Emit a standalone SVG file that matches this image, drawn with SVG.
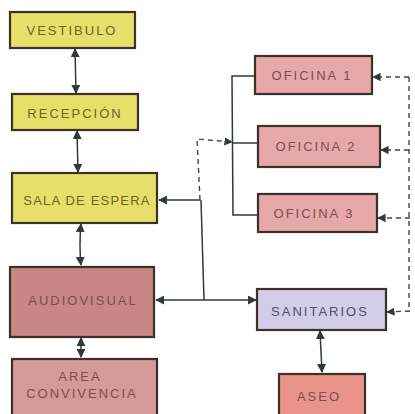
<svg xmlns="http://www.w3.org/2000/svg" width="415" height="414" viewBox="0 0 415 414">
<style>
.box{stroke:#3b3128;stroke-width:2.2}
.yel{fill:#e6df6a}
.av{fill:#c98686}
.ac{fill:#d39a97}
.of{fill:#e7a8aa}
.san{fill:#d2cde8}
.aseo{fill:#e9948a}
text{font-family:"Liberation Sans",Arial,sans-serif;font-size:13px;text-anchor:middle;letter-spacing:2px}
.ty{fill:#6b6524}
.tr{fill:#7e4d4f}
.tp{fill:#574d6a}
.c{fill:none;stroke:#2f3a3a;stroke-width:1.5}
.d{fill:none;stroke:#3f4545;stroke-width:1.4;stroke-dasharray:5 4}
</style>
<defs>
<marker id="ah" viewBox="0 0 10 10" refX="9" refY="5" markerWidth="6" markerHeight="6" orient="auto-start-reverse">
<path d="M0,0 L10,5 L0,10 z" fill="#2f3a3a"/>
</marker>
</defs>
<g id="connectors">
<line class="c" x1="75" y1="49" x2="76" y2="93" marker-start="url(#ah)" marker-end="url(#ah)"/>
<line class="c" x1="77" y1="131" x2="78" y2="172" marker-start="url(#ah)" marker-end="url(#ah)"/>
<path class="c" d="M81,224 Q79,245 81,265" marker-start="url(#ah)" marker-end="url(#ah)"/>
<line class="c" x1="81" y1="338" x2="81" y2="357" marker-start="url(#ah)" marker-end="url(#ah)"/>
<polyline class="c" points="200,200 159,200" marker-end="url(#ah)"/>
<polyline class="d" points="200,200 197,139 232,142" marker-end="url(#ah)"/>
<line class="c" x1="201" y1="200" x2="204" y2="300"/>
<line class="c" x1="204" y1="300" x2="156" y2="300" marker-end="url(#ah)"/>
<line class="c" x1="204" y1="300" x2="256" y2="300" marker-end="url(#ah)"/>
<polyline class="c" points="255,76 232,76 233,215 258,215"/>
<line class="c" x1="233" y1="143" x2="258" y2="143"/>
<polyline class="d" points="409,77 409,310"/>
<line class="d" x1="409" y1="77" x2="373" y2="77" marker-end="url(#ah)"/>
<line class="d" x1="409" y1="150" x2="381" y2="150" marker-end="url(#ah)"/>
<line class="d" x1="410" y1="218" x2="378" y2="218" marker-end="url(#ah)"/>
<line class="d" x1="410" y1="311" x2="387" y2="312" marker-end="url(#ah)"/>
<line class="c" x1="320" y1="331" x2="322" y2="372" marker-start="url(#ah)" marker-end="url(#ah)"/>
</g>
<g id="vestibulo"><rect class="box yel" x="10" y="12" width="125" height="36"/><text class="ty" x="72" y="35">VESTIBULO</text></g>
<g id="recepcion"><rect class="box yel" x="12" y="94" width="126" height="36"/><text class="ty" x="75" y="118">RECEPCIÓN</text></g>
<g id="sala"><rect class="box yel" x="12" y="173" width="145" height="50"/><text class="ty" x="87" y="205" style="letter-spacing:1.2px">SALA DE ESPERA</text></g>
<g id="audiovisual"><rect class="box av" x="10" y="267" width="144" height="70"/><text class="tr" x="83" y="305">AUDIOVISUAL</text></g>
<g id="area"><rect class="box ac" x="12" y="359" width="145" height="58"/><text class="tr" x="80" y="381">AREA</text><text class="tr" x="82" y="398">CONVIVENCIA</text></g>
<g id="oficina1"><rect class="box of" x="255" y="56" width="117" height="38"/><text class="tr" x="312" y="80">OFICINA 1</text></g>
<g id="oficina2"><rect class="box of" x="258" y="126" width="122" height="41"/><text class="tr" x="316" y="151">OFICINA 2</text></g>
<g id="oficina3"><rect class="box of" x="258" y="194" width="119" height="38"/><text class="tr" x="314" y="218">OFICINA 3</text></g>
<g id="sanitarios"><rect class="box san" x="257" y="289" width="129" height="41"/><text class="tp" x="320" y="316">SANITARIOS</text></g>
<g id="aseo"><rect class="box aseo" x="279" y="374" width="86" height="42"/><text class="tr" x="319" y="401">ASEO</text></g>
</svg>
